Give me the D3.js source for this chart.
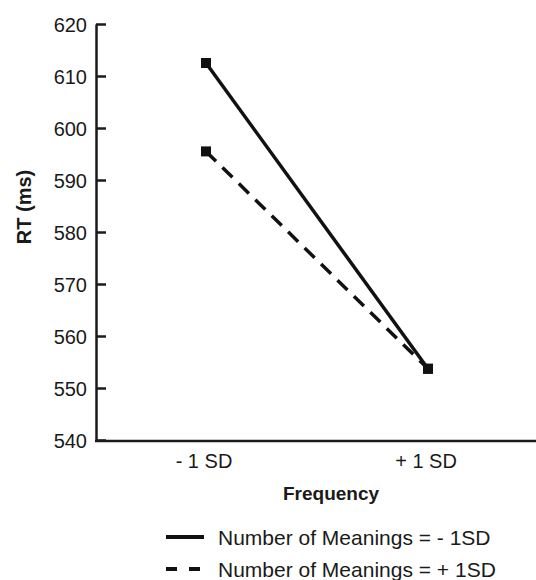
<!DOCTYPE html>
<html>
<head>
<meta charset="utf-8">
<script src="https://cdn.jsdelivr.net/npm/d3@7"></script>
<style>
  body { margin: 0; background: #fff; }
  text { font-family: "Liberation Sans", Arial, sans-serif; fill: #1a1a1a; }
</style>
</head>
<body>
<div class="chart"></div>
<script>
// data
var categories = ["- 1 SD", "+ 1 SD"];
var lowMeanings = [612.5, 553.7];   // Number of Meanings = - 1SD (solid)
var highMeanings = [595.5, 553.7];  // Number of Meanings = + 1SD (dashed)
var yTicks = [540, 550, 560, 570, 580, 590, 600, 610, 620];
var seriesNames = ["Number of Meanings = - 1SD", "Number of Meanings = + 1SD"];

var w = 536, h = 580;
var svg = d3.select(".chart").append("svg")
    .attr("width", w).attr("height", h);

var y = d3.scaleLinear().domain([540, 620]).range([440, 24]);
var x = d3.scalePoint().domain(categories).range([206, 428]);

// y axis, ticks point inward
var yAxis = d3.axisLeft(y).tickValues(yTicks).tickSizeInner(-10).tickSizeOuter(0).tickPadding(9);
var gy = svg.append("g").attr("transform", "translate(96,0)").call(yAxis);
gy.select(".domain").attr("stroke", "#1a1a1a").attr("stroke-width", 2.5);
gy.selectAll(".tick line").attr("stroke", "#1a1a1a").attr("stroke-width", 2.5);
gy.selectAll(".tick text").attr("font-size", 20).attr("dy", "0.36em").attr("fill", "#1a1a1a");

// x axis line runs to the edge
svg.append("line").attr("x1", 95).attr("x2", 536).attr("y1", 441).attr("y2", 441)
    .attr("stroke", "#1a1a1a").attr("stroke-width", 2.5);

svg.selectAll(".xlab").data(categories).enter().append("text")
    .attr("class", "xlab")
    .attr("x", function(d) { return x(d) - 2; })
    .attr("y", 468)
    .attr("text-anchor", "middle")
    .attr("font-size", 20)
    .text(function(d) { return d; });

svg.append("text").attr("x", 331).attr("y", 500).attr("text-anchor", "middle")
    .attr("font-size", 19).attr("font-weight", "bold").text("Frequency");

svg.append("text").attr("transform", "translate(31,207) rotate(-90)")
    .attr("text-anchor", "middle").attr("font-size", 20).attr("font-weight", "bold").text("RT (ms)");

// lines
var line = d3.line()
    .x(function(d, i) { return x(categories[i]); })
    .y(function(d) { return y(d); });

svg.append("path").datum(highMeanings).attr("d", line)
    .attr("fill", "none").attr("stroke", "#111").attr("stroke-width", 3.5)
    .attr("stroke-dasharray", "14,9");
svg.append("path").datum(lowMeanings).attr("d", line)
    .attr("fill", "none").attr("stroke", "#111").attr("stroke-width", 3.5);

[lowMeanings, highMeanings].forEach(function(s) {
    svg.selectAll(null).data(s).enter().append("rect")
        .attr("x", function(d, i) { return x(categories[i]) - 5; })
        .attr("y", function(d) { return y(d) - 5; })
        .attr("width", 10).attr("height", 10)
        .attr("fill", "#111");
});

// legend
var leg = svg.append("g");
seriesNames.forEach(function(name, i) {
    var ly = 537 + i * 32;
    leg.append("line").attr("x1", 166).attr("x2", 204).attr("y1", ly).attr("y2", ly)
        .attr("stroke", "#111").attr("stroke-width", 4)
        .attr("stroke-dasharray", i === 1 ? "11,12" : null);
    leg.append("text").attr("x", 218).attr("y", ly + 8).attr("font-size", 21).text(name);
});
</script>
</body>
</html>
